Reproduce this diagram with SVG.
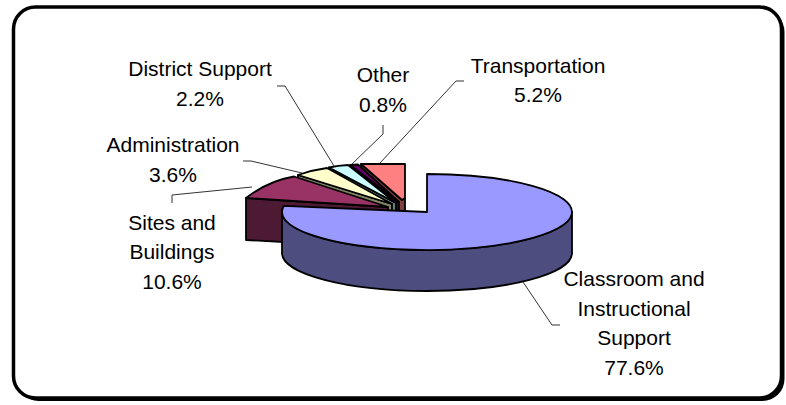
<svg xmlns="http://www.w3.org/2000/svg" width="786" height="405" viewBox="0 0 786 405">
<style>
.t{font-family:"Liberation Sans",Arial,sans-serif;font-size:21px;fill:#000;text-anchor:middle}
.o{stroke:#000;stroke-width:1.8;stroke-linejoin:round}
.ld{fill:none;stroke:#333;stroke-width:1}
</style>
<g id="frame">
<rect x="16.5" y="10" width="768" height="391" rx="22" fill="#000"/>
<rect x="13.5" y="7" width="768" height="391" rx="22" fill="#fff" stroke="#000" stroke-width="3.5"/>
</g>
<g id="transportation">
<polygon class="o" fill="#804040" points="361,164 402,200 405,198 405,239 402,241 361,205"/>
<polygon class="o" fill="#FF8080" points="361,164 405,164 405,198 402,200"/>
<text class="t" x="538" y="73">Transportation</text>
<text class="t" x="538" y="102">5.2%</text>
</g>
<g id="other">
<polygon class="o" fill="#330033" points="350,165 399,202 399,243 350,206"/>
<polygon class="o" fill="#660066" points="350,165 358,164.5 399,202"/>
<text class="t" x="383" y="82">Other</text>
<text class="t" x="383" y="112">0.8%</text>
</g>
<g id="district-support">
<polygon class="o" fill="#668080" points="329,167.5 396,203 396,244 329,208.5"/>
<path class="o" fill="#CCFFFF" d="M329,167.5 Q338,165.5 348,165 L396,203 Z"/>
<text class="t" x="200" y="76">District Support</text>
<text class="t" x="200" y="106">2.2%</text>
</g>
<g id="administration">
<polygon class="o" fill="#808066" points="298,175 392,204 392,245 298,216"/>
<path class="o" fill="#FFFFCC" d="M298,175 Q312,170 327,168 L392,204 Z"/>
<text class="t" x="173" y="152">Administration</text>
<text class="t" x="173" y="182">3.6%</text>
</g>
<g id="sites-and-buildings">
<polygon class="o" fill="#4D1A33" points="246,198 388,207 388,248 246,240"/>
<path class="o" fill="#993366" d="M246,198 Q268,181 294,176.5 L388,207 Z"/>
<text class="t" x="172" y="230">Sites and</text>
<text class="t" x="172" y="259">Buildings</text>
<text class="t" x="172" y="289">10.6%</text>
</g>
<g id="classroom">
<path class="o" fill="#4D4D80" d="M283.9,205.8 A145 38 0 1 0 572,212 L572,253 A145 38 0 0 1 282,253 L282,212 Z"/>
<path class="o" fill="#9999FF" d="M427,212 L427,174 A145 38 0 1 1 283.9,205.8 Z"/>
<text class="t" x="634" y="286">Classroom and</text>
<text class="t" x="634" y="316">Instructional</text>
<text class="t" x="634" y="345">Support</text>
<text class="t" x="634" y="375">77.6%</text>
</g>
<g id="connectors">
<polyline class="ld" points="523,282 552,325 560,325"/>
<polyline class="ld" points="172,203 172,195 252,187"/>
<polyline class="ld" points="243,161 251,161 302,173"/>
<polyline class="ld" points="277,86 285,86 334,166"/>
<polyline class="ld" points="383,125 383,134 352,164"/>
<polyline class="ld" points="464,81 456,81 380,163"/>
</g>
</svg>
